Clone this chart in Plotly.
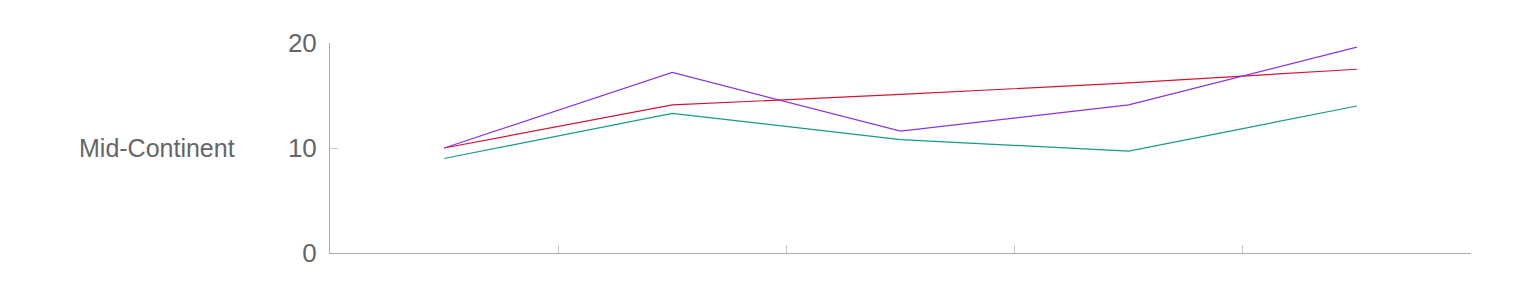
import plotly.graph_objects as go

categories = ["2019", "2020", "2021", "2022", "2023"]
red_vals = [10.0, 14.1, 15.1, 16.2, 17.5]
purple_vals = [10.0, 17.2, 11.6, 14.1, 19.6]
teal_vals = [9.0, 13.3, 10.8, 9.7, 14.0]
row_label = "Mid-Continent"
y_ticks = [0, 10, 20]

fig = go.Figure()
fig.add_trace(go.Scatter(x=categories, y=teal_vals, mode="lines",
                         line=dict(color="#18998a", width=1.2), name="A"))
fig.add_trace(go.Scatter(x=categories, y=red_vals, mode="lines",
                         line=dict(color="#d21733", width=1.2), name="B"))
fig.add_trace(go.Scatter(x=categories, y=purple_vals, mode="lines",
                         line=dict(color="#8a33e0", width=1.2), name="C"))

font_family = "Arial, 'Liberation Sans', sans-serif"
fig.update_layout(
    width=1536, height=300,
    margin=dict(l=330, r=65, t=43, b=47),
    paper_bgcolor="white", plot_bgcolor="white",
    showlegend=False,
    font=dict(family=font_family, color="#666666"),
    xaxis=dict(
        type="category", range=[-0.5, 4.5], showgrid=False, zeroline=False,
        showline=True, linecolor="#aaaaaa", linewidth=1,
        ticks="inside", tickson="boundaries", ticklen=8, tickcolor="#c8c8c8",
        showticklabels=False,
    ),
    yaxis=dict(
        range=[0, 20], tickvals=y_ticks, showgrid=False, zeroline=False,
        showline=True, linecolor="#aaaaaa", linewidth=1,
        ticks="inside", ticklen=8, tickcolor="#c8c8c8",
        tickfont=dict(size=26, color="#666666", family=font_family),
        ticklabelstandoff=7,
    ),
    annotations=[dict(
        text=row_label, xref="paper", yref="y", x=-0.0815, y=10,
        xanchor="right", yanchor="middle", showarrow=False,
        font=dict(size=25, color="#666666", family=font_family),
    )],
)

fig.write_html("out.html")
